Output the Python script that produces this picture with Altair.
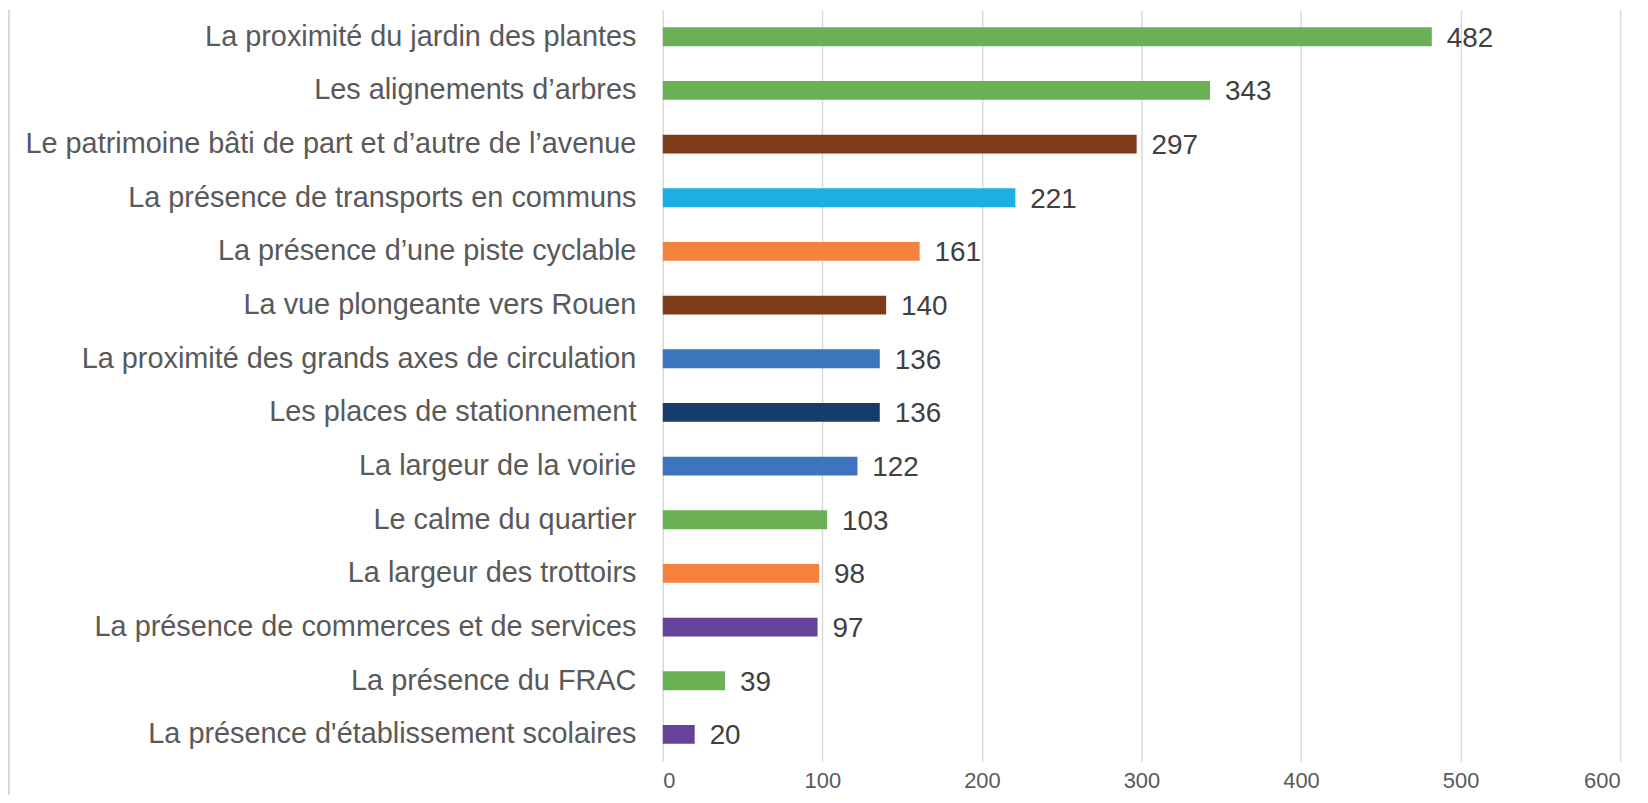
import altair as alt
import pandas as pd

categories = [
    "La proximité du jardin des plantes",
    "Les alignements d’arbres",
    "Le patrimoine bâti de part et d’autre de l’avenue",
    "La présence de transports en communs",
    "La présence d’une piste cyclable",
    "La vue plongeante vers Rouen",
    "La proximité des grands axes de circulation",
    "Les places de stationnement",
    "La largeur de la voirie",
    "Le calme du quartier",
    "La largeur des trottoirs",
    "La présence de commerces et de services",
    "La présence du FRAC",
    "La présence d'établissement scolaires",
]
values = [482, 343, 297, 221, 161, 140, 136, 136, 122, 103, 98, 97, 39, 20]
colors = ["#6AB156", "#6AB156", "#7E3A19", "#1BAFE3", "#F3823C", "#7E3A19",
          "#3C74BD", "#173C69", "#3C74BD", "#6AB156", "#F3823C", "#65439A",
          "#6AB156", "#65439A"]
x_ticks = [0, 100, 200, 300, 400, 500, 600]

df = pd.DataFrame({"cat": categories, "val": values, "col": colors})

W, H = 962, 755

y_enc = alt.Y("cat:N", sort=categories, title=None,
              scale=alt.Scale(paddingInner=0.65, paddingOuter=0.325),
              axis=alt.Axis(labelFontSize=29, labelColor="#595959", labelFont="Liberation Sans",
                            labelPadding=27, labelLimit=700, ticks=False, domain=False,
                            grid=False))
x_enc = alt.X("val:Q", title=None,
              scale=alt.Scale(domain=[0, 600], nice=False),
              axis=alt.Axis(values=x_ticks, labelFontSize=22, labelColor="#595959",
                            labelFont="Liberation Sans", labelPadding=9,
                            ticks=False, domain=False, grid=True, gridColor="#D9D9D9",
                            gridWidth=1.5))

bars = alt.Chart(df).mark_bar().encode(
    y=y_enc, x=x_enc, color=alt.Color("col:N", scale=None)
)

labels = alt.Chart(df).mark_text(
    align="left", baseline="middle", dx=15, dy=2, fontSize=28,
    font="Liberation Sans", color="#404040"
).encode(y=alt.Y("cat:N", sort=categories), x="val:Q", text="val:Q")

border = alt.Chart(pd.DataFrame({"a": [0]})).mark_rule(
    color="#D9D9D9", strokeWidth=2
).encode(x=alt.value(-657), y=alt.value(0), y2=alt.value(H + 34))

chart = alt.layer(bars, labels, border).properties(
    width=W, height=H,
    autosize=alt.AutoSizeParams(type="none"),
    padding={"left": 658, "top": 0, "right": 20, "bottom": 34},
).configure(background="white").configure_view(
    stroke="transparent", strokeWidth=0
).configure_axis(domain=False)

chart.save("out.html", embed_options={"renderer": "svg", "actions": False})
